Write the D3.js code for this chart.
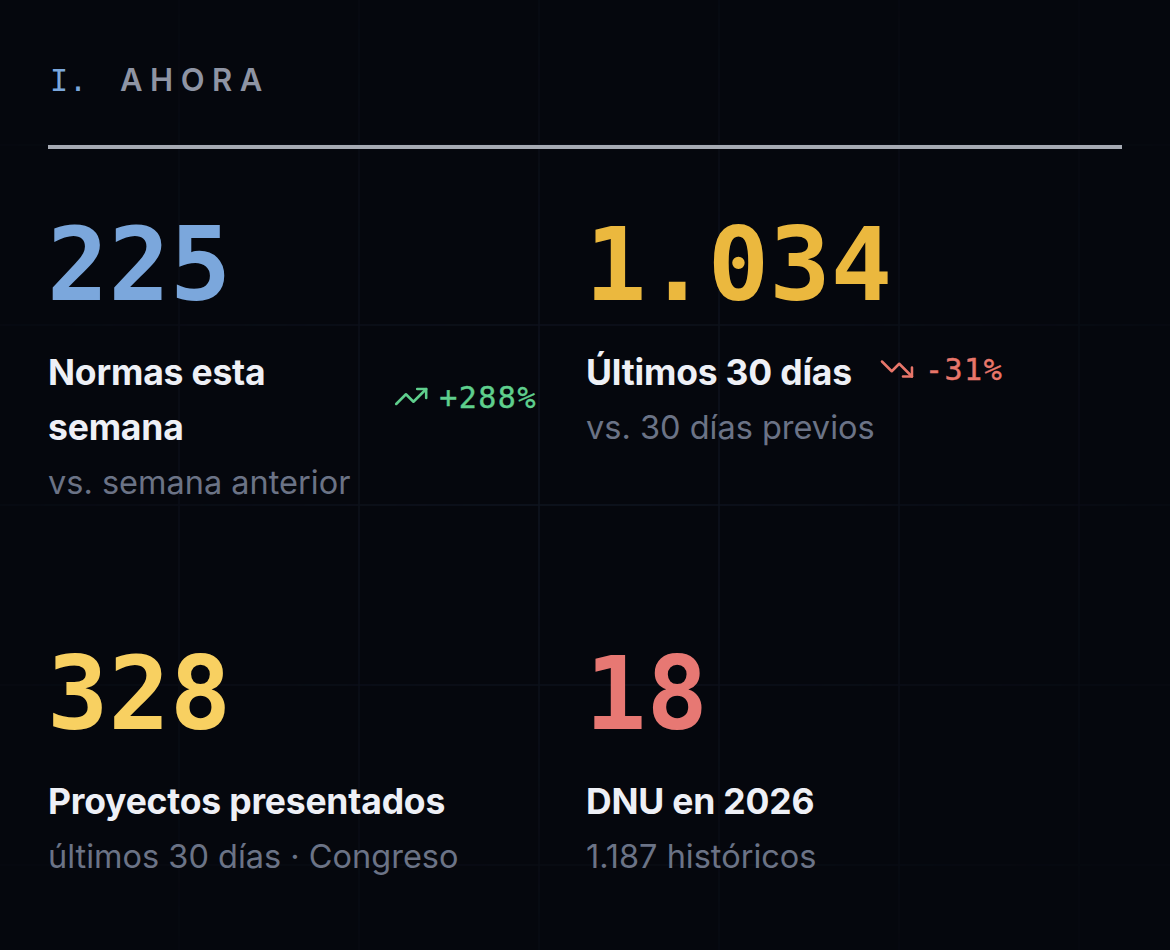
<!DOCTYPE html>
<html>
<head>
<meta charset="utf-8">
<script src="https://cdn.jsdelivr.net/npm/d3@7"></script>
<style>
  html, body { margin: 0; padding: 0; background: #05070d; }
  svg { display: block; }
</style>
</head>
<body>
<div id="chart"></div>
<script>
// section heading
var sectionNumber = 'I.';
var sectionTitle = 'AHORA';

// kpi cards, read left to right, top to bottom
var kpiValues = [225, 1034, 328, 18];
var kpiLabels = [['Normas esta', 'semana'], ['Últimos 30 días'], ['Proyectos presentados'], ['DNU en 2026']];
var kpiNotes = ['vs. semana anterior', 'vs. 30 días previos', 'últimos 30 días · Congreso', '1.187 históricos'];
var kpiDeltas = [288, -31, null, null];

var palette = ['#7ba7dc', '#ebb83e', '#f8d061', '#e77873'];

var W = 1170, H = 950;

var es = d3.formatLocale({ decimal: ',', thousands: '.', grouping: [3], currency: ['$', ''], minus: '-' });
var fmtValue = es.format(',d');
var fmtDelta = function(d) { return es.format('+d')(d) + '%'; };

var svg = d3.select('#chart')
    .append('svg')
    .attr('width', W)
    .attr('height', H);

svg.append('rect')
    .attr('width', W)
    .attr('height', H)
    .attr('fill', '#05070d');

// faint background grid, fading out toward the edges
var defs = svg.append('defs');
var grad = defs.append('radialGradient')
    .attr('id', 'fade')
    .attr('cx', '50%').attr('cy', '50%').attr('r', '60%');
grad.append('stop').attr('offset', '0%').attr('stop-color', '#fff').attr('stop-opacity', 1);
grad.append('stop').attr('offset', '100%').attr('stop-color', '#fff').attr('stop-opacity', 0.15);
defs.append('mask').attr('id', 'gridmask')
    .append('rect').attr('width', W).attr('height', H).attr('fill', 'url(#fade)');

var grid = svg.append('g').attr('mask', 'url(#gridmask)')
    .attr('stroke', '#111622')
    .attr('stroke-width', 1.5);

grid.selectAll('line.v')
    .data(d3.range(180, W, 180))
    .enter().append('line')
    .attr('class', 'v')
    .attr('x1', function(d) { return d - 1; })
    .attr('x2', function(d) { return d - 1; })
    .attr('y1', 0).attr('y2', H);

grid.selectAll('line.h')
    .data(d3.range(145, H, 180))
    .enter().append('line')
    .attr('class', 'h')
    .attr('y1', function(d) { return d; })
    .attr('y2', function(d) { return d; })
    .attr('x1', 0).attr('x2', W);

// heading
svg.append('text')
    .attr('x', 50).attr('y', 91)
    .attr('font-family', 'DejaVu Sans Mono')
    .attr('font-size', 30)
    .attr('letter-spacing', 1)
    .attr('fill', '#7ba7dc')
    .text(sectionNumber);

svg.append('text')
    .attr('x', 120).attr('y', 91)
    .attr('font-family', 'Inter')
    .attr('font-weight', 600)
    .attr('font-size', 31)
    .attr('letter-spacing', 7.5)
    .attr('fill', '#8e94a4')
    .text(sectionTitle);

svg.append('rect')
    .attr('x', 48).attr('y', 145)
    .attr('width', 1074).attr('height', 4)
    .attr('fill', '#a6aab3');

// card grid
var col = d3.scaleBand().domain([0, 1]).range([48, 1124]);
var row = d3.scaleLinear().domain([0, 1]).range([300, 729]);

var cards = kpiValues.map(function(v, i) {
    return { i: i, value: v, label: kpiLabels[i], note: kpiNotes[i], delta: kpiDeltas[i], c: i % 2, r: Math.floor(i / 2) };
});

var card = svg.selectAll('g.card')
    .data(cards)
    .enter().append('g')
    .attr('class', 'card')
    .attr('transform', function(d) { return 'translate(' + col(d.c) + ',' + row(d.r) + ')'; });

card.append('text')
    .attr('x', -1)
    .attr('y', 0)
    .attr('font-family', 'DejaVu Sans Mono')
    .attr('font-weight', 'bold')
    .attr('font-size', 102)
    .attr('fill', function(d) { return palette[d.i]; })
    .text(function(d) { return fmtValue(d.value); });

var lineH = 55;

card.each(function(d) {
    var g = d3.select(this);
    var label = g.append('text')
        .attr('font-family', 'Inter')
        .attr('font-weight', 700)
        .attr('font-size', 35.5)
        .attr('letter-spacing', -0.2)
        .attr('fill', '#eef0f6');
    label.selectAll('tspan')
        .data(d.label)
        .enter().append('tspan')
        .attr('x', 0)
        .attr('y', function(t, k) { return 85 + k * lineH; })
        .text(function(t) { return t; });

    g.append('text')
        .attr('x', 0)
        .attr('y', 85 + (d.label.length - 1) * lineH + 54)
        .attr('font-family', 'Inter')
        .attr('font-size', 32.5)
        .attr('fill', '#6b7386')
        .text(d.note);

    if (d.delta === null) return;

    var up = d.delta >= 0;
    var colr = up ? '#5fcf8d' : '#e8766a';
    var dg = g.append('g');
    var cy = 85 - 16 + (d.label.length - 1) * lineH / 2;

    var t = dg.append('text')
        .attr('font-family', 'DejaVu Sans Mono')
        .attr('font-size', 30)
        .attr('letter-spacing', 1.5)
        .attr('stroke', colr)
        .attr('stroke-width', 0.4)
        .attr('fill', colr)
        .attr('y', cy + 11)
        .text(fmtDelta(d.delta));
    var tw = t.node().getComputedTextLength();

    var icon = dg.append('g')
        .attr('fill', 'none')
        .attr('stroke', colr)
        .attr('stroke-width', 1.7)
        .attr('stroke-linecap', 'round')
        .attr('stroke-linejoin', 'round');
    var pts = up ? [[[22, 7], [13.5, 15.5], [8.5, 10.5], [2, 17]], [[16, 7], [22, 7], [22, 13]]]
                 : [[[22, 17], [13.5, 8.5], [8.5, 13.5], [2, 7]], [[16, 17], [22, 17], [22, 11]]];
    icon.selectAll('path')
        .data(pts)
        .enter().append('path')
        .attr('d', d3.line());

    var x0;
    if (d.label.length > 1) {
        // wrapped label: delta pushed to the right edge of the card
        x0 = 490 - tw - 44;
    } else {
        x0 = label.node().getComputedTextLength() + 30;
    }
    icon.attr('transform', 'translate(' + (x0 - 3) + ',' + (cy - 18) + ') scale(1.5)');
    t.attr('x', x0 + 43);
});
</script>
</body>
</html>
